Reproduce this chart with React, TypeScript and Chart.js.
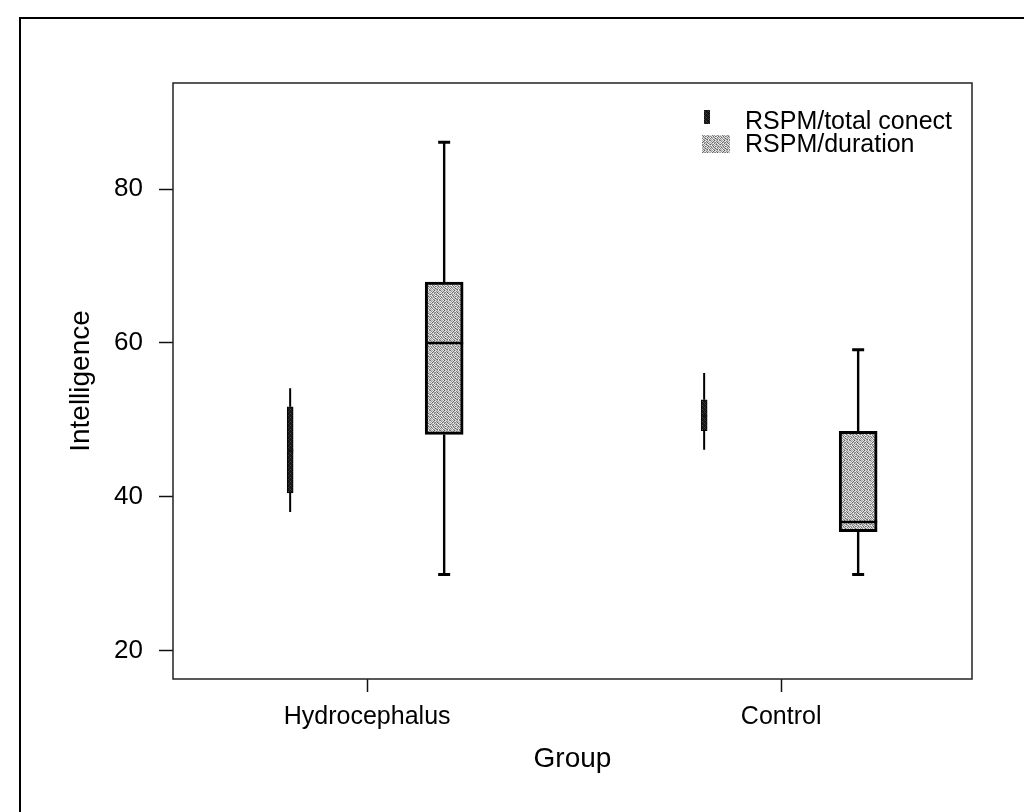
import React, { useEffect, useRef } from "react";
import { Chart, registerables } from "chart.js";

Chart.register(...registerables);

// ---- data ----
const categories = ["Hydrocephalus", "Control"];
const seriesNames = ["RSPM/total conect", "RSPM/duration"];
const yTickValues = [20, 40, 60, 80];

// RSPM/total conect box stats per category
const conectMin = [38.0, 46.1];
const conectQ1 = [40.5, 48.6];
const conectMedian = [46.0, 50.5];
const conectQ3 = [51.7, 52.6];
const conectMax = [54.1, 56.1];

// RSPM/duration box stats per category
const durationMin = [29.9, 29.9];
const durationQ1 = [48.1, 35.45];
const durationMedian = [60.0, 36.7];
const durationQ3 = [67.9, 48.5];
const durationMax = [86.1, 59.1];

const FONT = "'Liberation Sans', Arial, sans-serif";

function makePattern(levels: number[][]): CanvasPattern | string {
  const c = document.createElement("canvas");
  const h = levels.length;
  const w = levels[0].length;
  c.width = w;
  c.height = h;
  const g = c.getContext("2d");
  if (!g) return "#aaa";
  for (let yy = 0; yy < h; yy++) {
    for (let xx = 0; xx < w; xx++) {
      const v = levels[yy][xx];
      g.fillStyle = `rgb(${v},${v},${v})`;
      g.fillRect(xx, yy, 1, 1);
    }
  }
  const p = g.createPattern(c, "repeat");
  return p || "#aaa";
}

// speckled grey texture (styling only)
const lightLevels = [
  [120, 205, 170, 230, 95, 190, 215, 150, 235, 140],
  [215, 150, 230, 110, 200, 240, 130, 205, 165, 225],
  [170, 240, 100, 195, 160, 125, 220, 90, 210, 180],
  [230, 135, 210, 245, 120, 210, 170, 235, 115, 200],
  [105, 190, 160, 140, 225, 175, 100, 195, 245, 150],
  [200, 240, 120, 215, 150, 235, 205, 140, 175, 225],
  [150, 175, 225, 95, 245, 110, 160, 230, 105, 190],
  [235, 115, 200, 180, 135, 215, 245, 120, 220, 145],
  [130, 220, 145, 235, 195, 90, 180, 205, 160, 240],
  [210, 165, 240, 125, 170, 230, 140, 110, 230, 115],
];
const darkLevels = [
  [15, 50, 20, 25],
  [30, 15, 80, 15],
  [15, 40, 15, 45],
  [60, 20, 25, 15],
];

export default function App() {
  const ref = useRef<HTMLCanvasElement | null>(null);

  useEffect(() => {
    const canvas = ref.current;
    if (!canvas) return;
    const lightPat = makePattern(lightLevels);
    const darkPat = makePattern(darkLevels);
    const offsets = [-0.186, 0.186];
    const stats = [
      { min: conectMin, q1: conectQ1, med: conectMedian, q3: conectQ3, max: conectMax, cap: 0, wl: 2, medColor: "#111" },
      { min: durationMin, q1: durationQ1, med: durationMedian, q3: durationQ3, max: durationMax, cap: 12, wl: 2.4, medColor: "#000" },
    ];

    const boxPlugin = {
      id: "boxWhiskers",
      beforeDraw(chart: any) {
        const ctx = chart.ctx;
        ctx.save();
        ctx.strokeStyle = "#000";
        ctx.lineWidth = 2;
        ctx.beginPath();
        ctx.moveTo(20, 812);
        ctx.lineTo(20, 18);
        ctx.lineTo(1024, 18);
        ctx.stroke();
        ctx.restore();
      },
      afterDatasetsDraw(chart: any) {
        const ctx = chart.ctx;
        const ys = chart.scales.y;
        ctx.save();
        stats.forEach((s: any, di: number) => {
          const meta = chart.getDatasetMeta(di);
          meta.data.forEach((el: any, j: number) => {
            const x = el.x;
            const w = el.width;
            const yQ3 = ys.getPixelForValue(s.q3[j]);
            const yQ1 = ys.getPixelForValue(s.q1[j]);
            const yMax = ys.getPixelForValue(s.max[j]);
            const yMin = ys.getPixelForValue(s.min[j]);
            ctx.strokeStyle = "#000";
            ctx.lineWidth = s.wl;
            ctx.beginPath();
            ctx.moveTo(x, yQ3);
            ctx.lineTo(x, yMax);
            ctx.moveTo(x, yQ1);
            ctx.lineTo(x, yMin);
            ctx.stroke();
            if (s.cap > 0) {
              ctx.lineWidth = 3;
              ctx.beginPath();
              ctx.moveTo(x - s.cap / 2, yMax);
              ctx.lineTo(x + s.cap / 2, yMax);
              ctx.moveTo(x - s.cap / 2, yMin);
              ctx.lineTo(x + s.cap / 2, yMin);
              ctx.stroke();
            }
            ctx.beginPath();
            ctx.lineWidth = 2.5;
            ctx.strokeStyle = s.medColor;
            const ym = ys.getPixelForValue(s.med[j]);
            ctx.moveTo(x - w / 2, ym);
            ctx.lineTo(x + w / 2, ym);
            ctx.stroke();
          });
        });
        ctx.restore();
      },
      afterDraw(chart: any) {
        const ctx = chart.ctx;
        const a = chart.chartArea;
        ctx.save();
        ctx.strokeStyle = "#222";
        ctx.lineWidth = 1.5;
        ctx.strokeRect(a.left, a.top, a.right - a.left, a.bottom - a.top);
        // legend
        ctx.fillStyle = darkPat;
        ctx.fillRect(704, 110, 6, 14);
        ctx.fillStyle = lightPat;
        ctx.fillRect(702, 135, 28, 18);
        ctx.fillStyle = "#000";
        ctx.font = `25px ${FONT}`;
        ctx.textBaseline = "middle";
        ctx.textAlign = "left";
        ctx.fillText(seriesNames[0], 745, 122);
        ctx.fillText(seriesNames[1], 745, 145);
        ctx.restore();
      },
    };

    const chart = new Chart(canvas, {
      type: "bar",
      data: {
        datasets: [
          {
            label: seriesNames[0],
            data: categories.map((_, i) => ({ x: i + 1 + offsets[0], y: [conectQ1[i], conectQ3[i]] })) as any,
            backgroundColor: darkPat as any,
            borderColor: "#000",
            borderWidth: 1,
            borderSkipped: false,
            barThickness: 6,
            grouped: false,
          },
          {
            label: seriesNames[1],
            data: categories.map((_, i) => ({ x: i + 1 + offsets[1], y: [durationQ1[i], durationQ3[i]] })) as any,
            backgroundColor: lightPat as any,
            borderColor: "#000",
            borderWidth: 3,
            borderSkipped: false,
            barThickness: 38,
            grouped: false,
          },
        ],
      },
      options: {
        animation: false,
        responsive: false,
        maintainAspectRatio: false,
        devicePixelRatio: 1,
        layout: { padding: { top: 83, right: 52, left: 0, bottom: 0 } },
        plugins: { legend: { display: false }, tooltip: { enabled: false } },
        scales: {
          x: {
            type: "linear",
            min: 0.531,
            max: 2.461,
            offset: false,
            afterFit: (s: any) => {
              s.height = 133;
            },
            afterBuildTicks: (s: any) => {
              s.ticks = categories.map((_, i) => ({ value: i + 1 }));
            },
            grid: {
              display: true,
              drawOnChartArea: false,
              drawTicks: true,
              tickLength: 13,
              tickWidth: 1.5,
              tickColor: "#111",
              offset: false,
            },
            border: { display: false },
            ticks: {
              padding: 10,
              color: "#000",
              font: { family: FONT, size: 25 },
              maxRotation: 0,
              autoSkip: false,
              callback: (v: any) => categories[Math.round(Number(v)) - 1] ?? "",
            },
            title: {
              display: true,
              text: "Group",
              color: "#000",
              font: { family: FONT, size: 28 },
              padding: { top: 0, bottom: 36 },
            },
          },
          y: {
            type: "linear",
            min: 16.3,
            max: 93.8,
            afterFit: (s: any) => {
              s.width = 173;
            },
            afterBuildTicks: (s: any) => {
              s.ticks = yTickValues.map((v) => ({ value: v }));
            },
            grid: {
              display: true,
              drawOnChartArea: false,
              drawTicks: true,
              tickLength: 14,
              tickWidth: 1.5,
              tickColor: "#111",
            },
            border: { display: false },
            ticks: {
              padding: 16,
              color: "#000",
              font: { family: FONT, size: 26 },
            },
            title: {
              display: true,
              text: "Intelligence",
              color: "#000",
              font: { family: FONT, size: 28 },
              padding: { top: 64, bottom: 0 },
            },
          },
        },
      },
      plugins: [boxPlugin],
    });

    return () => {
      chart.destroy();
    };
  }, []);

  return (
    <div style={{ position: "absolute", left: 0, top: 0, width: 1024, height: 812, background: "#fff" }}>
      <canvas ref={ref} width={1024} height={812} style={{ display: "block" }} />
    </div>
  );
}
